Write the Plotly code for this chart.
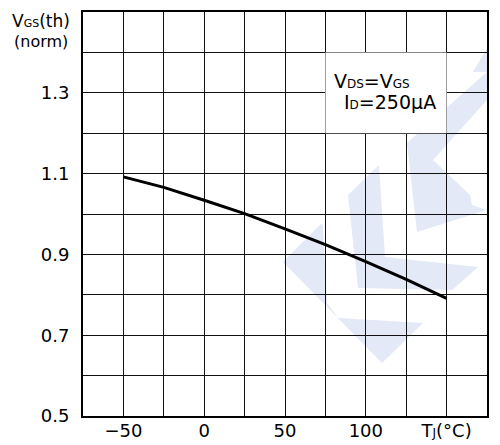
import plotly.graph_objects as go

# Data
tj = [-50, -25, 0, 25, 50, 75, 100, 125, 150]
vgs_norm = [1.092, 1.066, 1.034, 1.001, 0.963, 0.924, 0.882, 0.838, 0.791]

x_grid = [-75, -50, -25, 0, 25, 50, 75, 100, 125, 150, 175]
x_labels = ["", "−50", "", "0", "", "50", "", "100", "", "T<span style='font-size:12px'>J</span>(°C)", ""]
y_grid = [0.5, 0.6, 0.7, 0.8, 0.9, 1.0, 1.1, 1.2, 1.3, 1.4, 1.5]
y_labels = ["0.5", "", "0.7", "", "0.9", "", "1.1", "", "1.3", "", ""]

FONT = "DejaVu Sans"
W, H = 500, 445
L, R, T, B = 83, 13, 12, 29

def px2paper(px, py):
    return (px - L) / (W - L - R), 1 - (py - T) / (H - T - B)

fig = go.Figure()
fig.add_trace(go.Scatter(x=tj, y=vgs_norm, mode="lines",
                         line=dict(color="black", width=3), showlegend=False,
                         hoverinfo="skip"))

# light watermark (pixel polygons converted to paper coords)
wm_polys = [
    [(322, 223), (283, 262), (382, 363), (423, 323), (338, 318), (327, 303), (323, 227)],
    [(348, 195), (379, 165), (385, 257), (478, 267), (452, 290), (358, 288)],
    [(407, 143), (487, 72), (487, 100), (433, 160), (470, 195), (472, 205), (487, 210), (417, 232)],
    [(473, 72), (487, 48), (487, 72)],
]
shapes = []
for poly in wm_polys:
    pts = [px2paper(a, b) for a, b in poly]
    path = "M " + " L ".join(f"{x:.4f},{y:.4f}" for x, y in pts) + " Z"
    shapes.append(dict(type="path", xref="paper", yref="paper", path=path,
                       fillcolor="#e3e9f6", line=dict(width=0), layer="below"))

# white box behind the condition text
shapes.append(dict(type="rect", xref="x", yref="y", x0=75, x1=150, y0=1.2, y1=1.4,
                   fillcolor="white", line=dict(width=0), layer="between"))

fig.update_layout(
    width=W, height=H,
    margin=dict(l=L, r=R, t=T, b=B, autoexpand=False),
    paper_bgcolor="white", plot_bgcolor="white",
    font=dict(family=FONT, size=18, color="black"),
    shapes=shapes,
    xaxis=dict(range=[-75, 175], tickmode="array", tickvals=x_grid, ticktext=x_labels,
               showgrid=True, gridcolor="#111", gridwidth=1, automargin=False,
               showline=True, linecolor="black", linewidth=2, mirror=True,
               ticks="", zeroline=False, ticklabelstandoff=-3),
    yaxis=dict(range=[0.5, 1.5], tickmode="array", tickvals=y_grid, ticktext=y_labels,
               showgrid=True, gridcolor="#111", gridwidth=1, automargin=False,
               showline=True, linecolor="black", linewidth=2, mirror=True,
               ticks="", zeroline=False, ticklabelstandoff=8),
    annotations=[
        dict(xref="paper", yref="paper", x=px2paper(41, 0)[0], y=px2paper(0, 21)[1],
             text="V<span style='font-size:11px'>GS</span>(th)", showarrow=False,
             font=dict(size=17), xanchor="center", yanchor="middle"),
        dict(xref="paper", yref="paper", x=px2paper(41, 0)[0], y=px2paper(0, 42)[1],
             text="(norm)", showarrow=False,
             font=dict(size=16), xanchor="center", yanchor="middle"),
        dict(xref="paper", yref="paper", x=px2paper(332, 0)[0], y=px2paper(0, 81)[1],
             text="V<span style='font-size:12px'>DS</span>=V<span style='font-size:12px'>GS</span>",
             showarrow=False, font=dict(size=19), xanchor="left", yanchor="middle"),
        dict(xref="paper", yref="paper", x=px2paper(342, 0)[0], y=px2paper(0, 102)[1],
             text="I<span style='font-size:12px'>D</span>=250μA",
             showarrow=False, font=dict(size=19), xanchor="left", yanchor="middle"),
    ],
)

fig.write_html("out.html")
